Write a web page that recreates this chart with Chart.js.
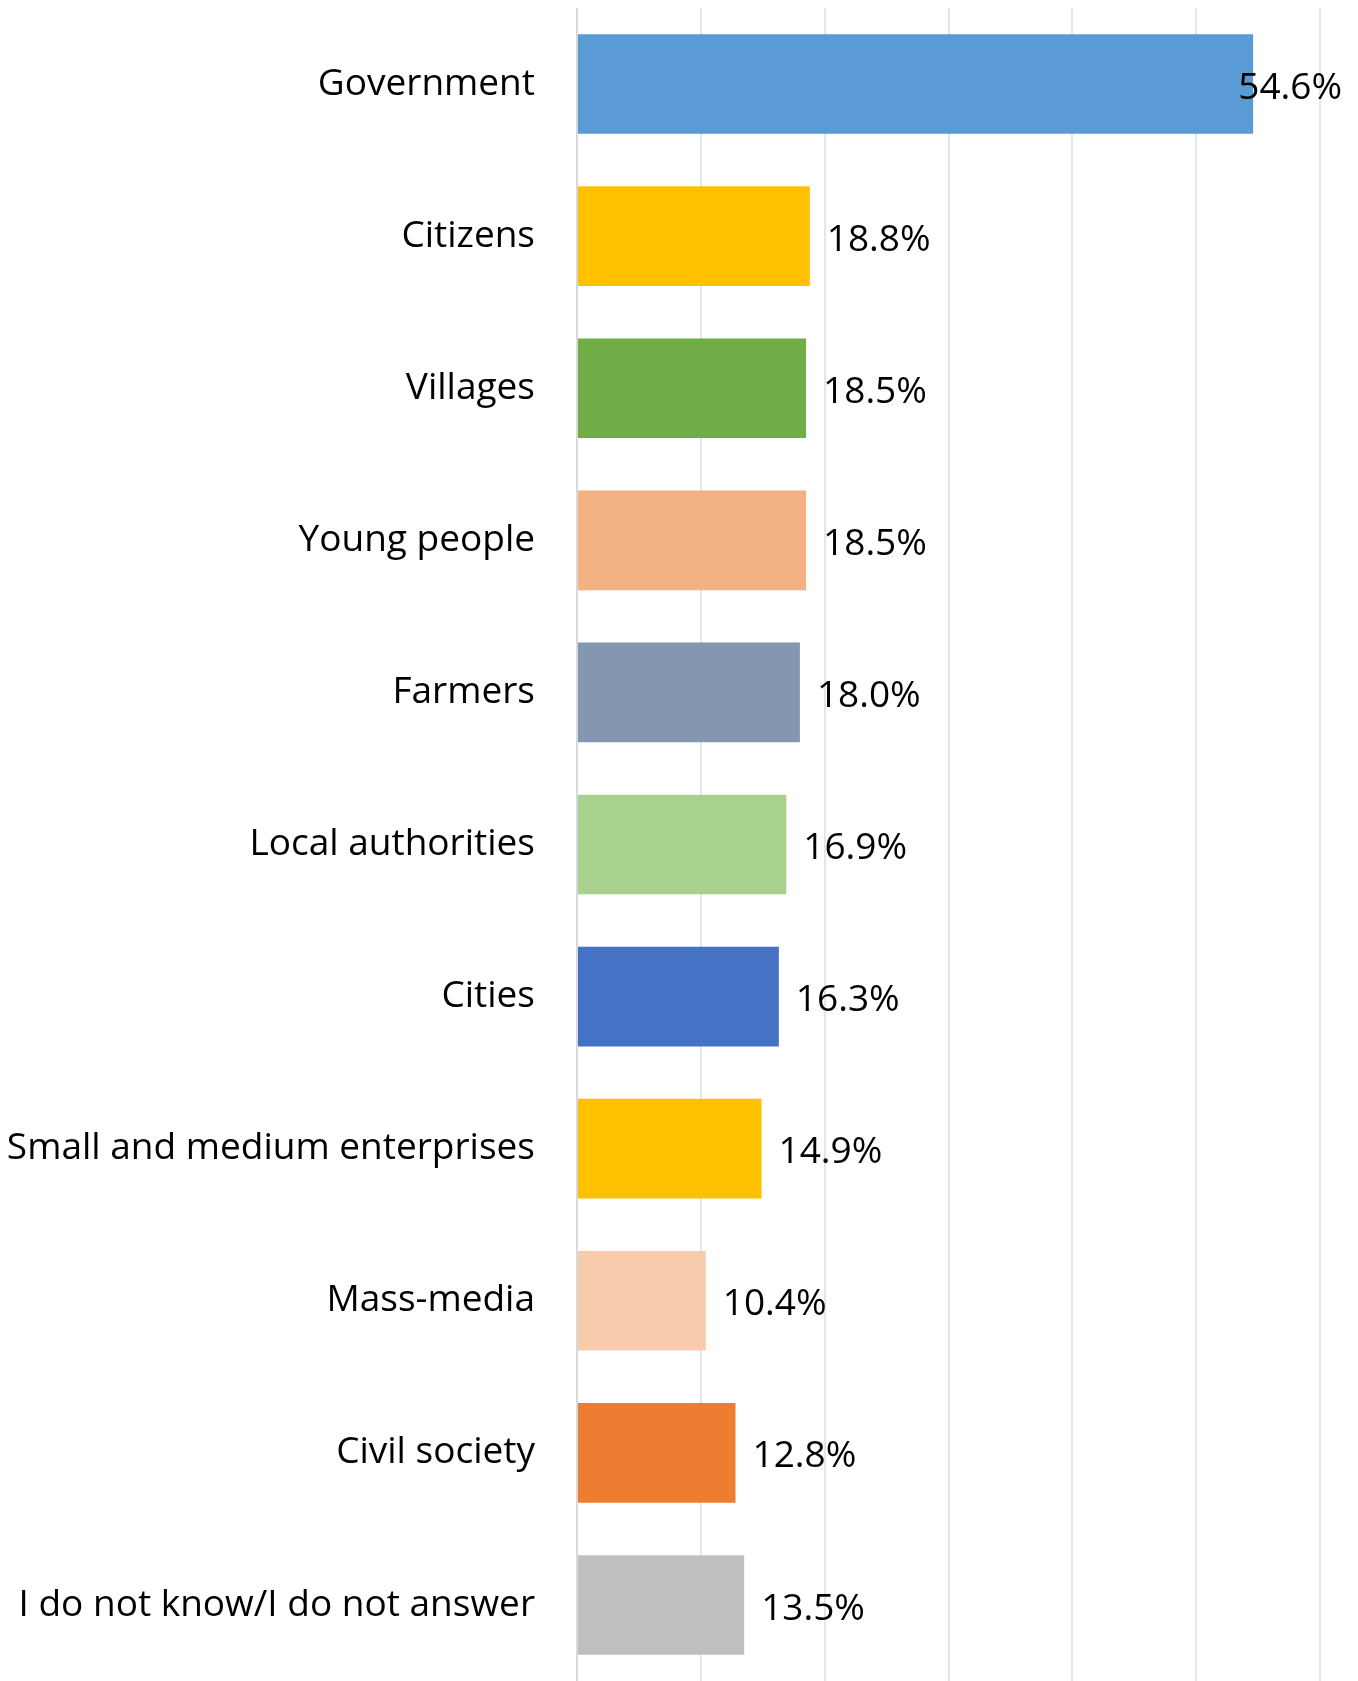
<!DOCTYPE html>
<html>
<head>
<meta charset="utf-8">
<script src="https://cdn.jsdelivr.net/npm/chart.js@4"></script>
<style>
    html, body { margin: 0; padding: 0; background: #fff; overflow: hidden; }
    #wrap { width: 1358px; height: 1681px; position: relative; }
</style>
</head>
<body>
<div id="wrap"><canvas id="barChart"></canvas></div>
<script>
// ============ DATA ============
const categories = [
    'Government', 'Citizens', 'Villages', 'Young people', 'Farmers',
    'Local authorities', 'Cities', 'Small and medium enterprises',
    'Mass-media', 'Civil society', 'I do not know/I do not answer'
];
const shares = [54.6, 18.8, 18.5, 18.5, 18.0, 16.9, 16.3, 14.9, 10.4, 12.8, 13.5];
const barColors = [
    '#5b9bd5', '#ffc000', '#70ad47', '#f4b183', '#8497b0',
    '#a9d18e', '#4472c4', '#ffc000', '#f8cbad', '#ed7d31', '#bfbfbf'
];
const xTicks = [0, 10, 20, 30, 40, 50, 60];

const FONT = '"Open Sans", "Noto Sans", sans-serif';
const FONT_SIZE = 37;

// value labels, pushed back inside the canvas when they would overflow
const valueLabels = {
    id: 'valueLabels',
    afterDatasetsDraw(chart) {
        const ctx = chart.ctx;
        const meta = chart.getDatasetMeta(0);
        ctx.save();
        ctx.font = FONT_SIZE + 'px ' + FONT;
        ctx.fillStyle = '#000';
        ctx.textBaseline = 'middle';
        ctx.textAlign = 'left';
        meta.data.forEach((bar, i) => {
            const txt = shares[i].toFixed(1) + '%';
            const w = ctx.measureText(txt).width;
            let x = bar.x + 17;
            if (x + w > chart.width - 16) x = chart.width - 16 - w;
            ctx.fillText(txt, x, bar.y + 4);
        });
        ctx.restore();
    }
};

let barChart = new Chart(document.getElementById('barChart'), {
    type: 'bar',
    data: {
        labels: categories,
        datasets: [{
            data: shares,
            backgroundColor: barColors,
            borderWidth: 0,
            borderRadius: 0,
            barPercentage: 0.655,
            categoryPercentage: 1.0
        }]
    },
    options: {
        indexAxis: 'y',
        responsive: true,
        maintainAspectRatio: false,
        animation: false,
        layout: { padding: { top: 8, right: 38, bottom: -6, left: 0 } },
        plugins: {
            legend: { display: false },
            tooltip: { enabled: false }
        },
        scales: {
            x: {
                min: 0,
                max: 60,
                afterBuildTicks: s => { s.ticks = xTicks.map(v => ({ value: v })); },
                afterFit: s => { s.height = 0; s.paddingLeft = 0; s.paddingRight = 0; },
                ticks: { display: false },
                border: { display: false },
                grid: {
                    drawTicks: false,
                    lineWidth: 2,
                    color: c => c.tick && c.tick.value === 0 ? '#d9d9d9' : '#dde8f6'
                }
            },
            y: {
                afterFit: s => { s.width = 577; s.paddingTop = 0; s.paddingBottom = 0; },
                border: { display: false },
                grid: { display: false, drawTicks: false },
                ticks: {
                    padding: 42,
                    color: '#000',
                    font: { family: FONT, size: FONT_SIZE }
                }
            }
        }
    },
    plugins: [valueLabels]
});
</script>
</body>
</html>
